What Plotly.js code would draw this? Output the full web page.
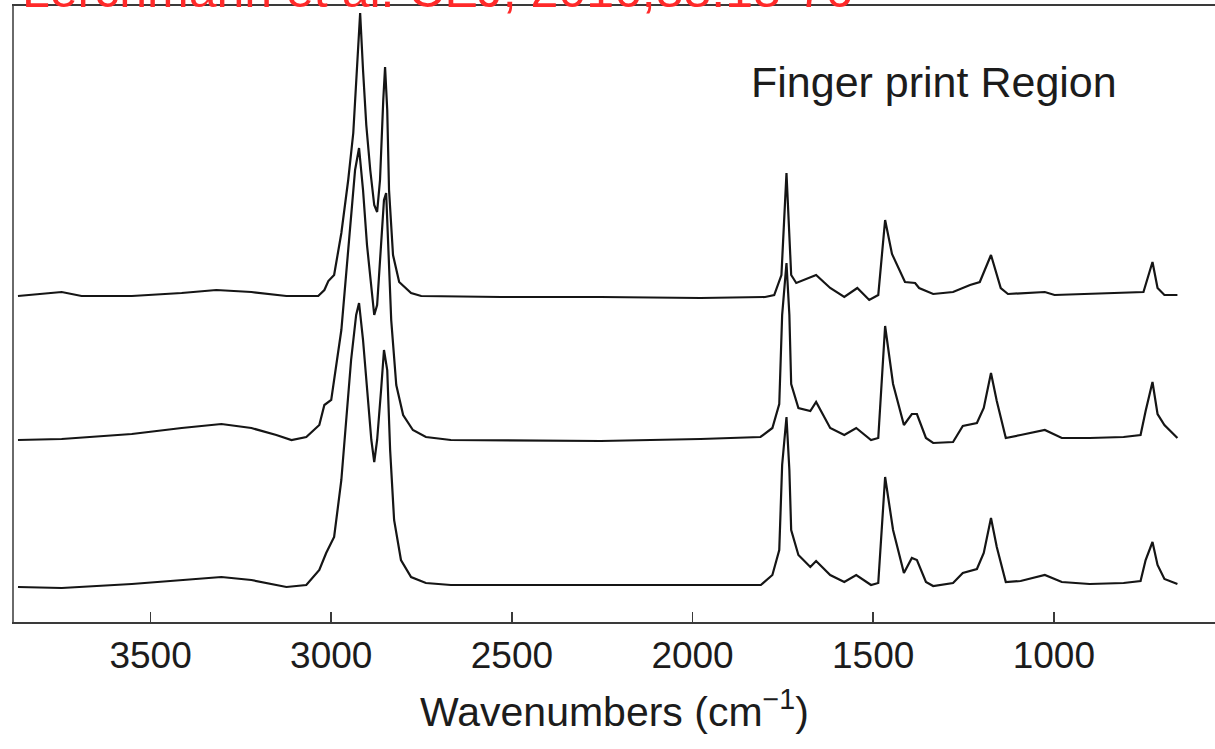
<!DOCTYPE html>
<html>
<head>
<meta charset="utf-8">
<script src="https://cdn.plot.ly/plotly-3.0.1.min.js"></script>
<style>html,body{margin:0;padding:0;background:#fff;overflow:hidden;}</style>
</head>
<body>
<div id="chart" style="width:1215px;height:749px;"></div>
<script>
// Wavenumbers (cm-1) and relative absorbance for each spectrum
const wnTop = [3867,3746,3691,3552,3414,3318,3221,3124,3036,3019,3008,2992,2972,2953,2939,2928,2920,2912,2903,2892,2881,2873,2865,2856,2851,2845,2840,2829,2812,2779,2751,2530,2254,1978,1799,1774,1754,1740,1727,1713,1658,1619,1580,1544,1511,1486,1467,1448,1412,1384,1373,1334,1279,1232,1205,1174,1147,1127,1025,998,807,752,727,713,694,658];
const absTop = [0.01,0.05,0.01,0.01,0.04,0.07,0.05,0.01,0.01,0.07,0.16,0.22,0.64,1.17,1.64,2.30,2.84,2.27,1.72,1.27,0.92,0.85,1.17,1.97,2.30,1.87,1.07,0.42,0.15,0.04,0.01,0.0,0.0,-0.01,0.0,0.02,0.22,1.24,0.22,0.14,0.22,0.09,0.0,0.09,-0.03,0.02,0.77,0.43,0.15,0.14,0.09,0.03,0.05,0.12,0.15,0.42,0.09,0.03,0.05,0.02,0.04,0.05,0.35,0.09,0.02,0.02];

const wnMid = [3867,3746,3552,3414,3304,3221,3152,3110,3069,3033,3019,3000,2972,2958,2945,2934,2923,2912,2901,2889,2881,2873,2862,2854,2848,2843,2834,2820,2801,2774,2738,2669,2254,1978,1812,1779,1760,1752,1740,1732,1727,1707,1674,1658,1619,1580,1547,1506,1486,1467,1445,1415,1393,1379,1354,1334,1279,1252,1213,1194,1174,1158,1133,1092,1025,978,901,807,760,746,727,713,694,658];
const absMid = [0,0.01,0.06,0.12,0.16,0.12,0.05,0,0.03,0.15,0.35,0.40,1.10,1.70,2.25,2.70,2.92,2.50,1.95,1.50,1.25,1.35,1.90,2.40,2.47,2.00,1.20,0.55,0.25,0.10,0.03,0,-0.01,0.01,0.03,0.12,0.36,1.25,1.77,1.25,0.56,0.32,0.29,0.38,0.12,0.05,0.12,0,0.02,1.14,0.56,0.15,0.26,0.26,0.02,-0.03,-0.02,0.14,0.17,0.32,0.67,0.39,0.02,0.05,0.10,0.02,0.02,0.03,0.05,0.29,0.58,0.26,0.15,0.02];

const wnBot = [3867,3746,3552,3414,3304,3221,3124,3069,3033,3014,2992,2972,2958,2945,2931,2923,2912,2901,2889,2881,2873,2862,2854,2845,2837,2826,2807,2779,2738,2669,2254,1978,1811,1779,1760,1752,1740,1732,1727,1707,1674,1658,1619,1580,1547,1506,1486,1467,1445,1415,1393,1379,1354,1334,1279,1252,1213,1194,1174,1158,1133,1092,1025,978,901,807,760,746,727,713,694,658];
const absBot = [-0.02,-0.03,0.01,0.05,0.08,0.05,-0.02,0,0.15,0.32,0.48,1.05,1.65,2.25,2.70,2.82,2.45,1.95,1.45,1.23,1.45,1.95,2.35,2.15,1.35,0.65,0.25,0.08,0.02,0,0,0,0,0.10,0.35,1.20,1.68,1.15,0.55,0.30,0.18,0.24,0.10,0.03,0.10,0,0.02,1.08,0.55,0.12,0.27,0.25,0.03,-0.01,0.02,0.12,0.16,0.32,0.67,0.38,0.03,0.04,0.10,0.03,0.01,0.02,0.04,0.25,0.43,0.20,0.06,0.01];

// vertical stacking offsets of the spectra
const offsets = [2.88, 1.45, 0];
const tickVals = [3500, 3000, 2500, 2000, 1500, 1000];
const tickText = ["3500", "3000", "2500", "2000", "1500", "1000"];

const series = [[wnTop, absTop], [wnMid, absMid], [wnBot, absBot]];
const traces = series.map((s, i) => ({
  x: s[0],
  y: s[1].map(v => v + offsets[i]),
  type: 'scatter',
  mode: 'lines',
  line: {color: '#151515', width: 2.2},
  hoverinfo: 'skip',
  showlegend: false
}));

const font = "'Liberation Sans', Arial, sans-serif";
const layout = {
  width: 1215, height: 749,
  margin: {l: 14, r: 0, t: 6, b: 127},
  paper_bgcolor: '#fff', plot_bgcolor: '#fff',
  showlegend: false,
  xaxis: {
    range: [3878, 554],
    showgrid: false, zeroline: false,
    showline: true, mirror: true, linecolor: '#3a3a3a', linewidth: 2,
    ticks: 'inside', ticklen: 10, tickwidth: 1.5, tickcolor: '#3a3a3a',
    tickmode: 'array', tickvals: tickVals, ticktext: tickText,
    tickfont: {family: font, size: 37, color: '#1c1c1c'},
    title: {text: 'Wavenumbers (cm<sup>\u22121</sup>)', font: {family: font, size: 41, color: '#1c1c1c'}, standoff: 22}
  },
  yaxis: {
    range: [-0.37, 5.79],
    showgrid: false, zeroline: false, showticklabels: false, ticks: '',
    showline: true, linecolor: '#6a6a6a', linewidth: 2
  },
  annotations: [
    {text: 'Finger print Region', xref: 'paper', yref: 'paper', x: 0.766, y: 0.877,
     xanchor: 'center', yanchor: 'middle', showarrow: false,
     font: {family: font, size: 43, color: '#1c1c1c'}},
    {text: 'Lerchmann et al. CEJ, 2016;88:18-76', xref: 'paper', yref: 'paper', x: 0.0, y: 1,
     xanchor: 'left', yanchor: 'bottom', yshift: -14, xshift: 6, showarrow: false,
     font: {family: font, size: 50, color: '#ff2a2a'}}
  ]
};

Plotly.newPlot('chart', traces, layout, {displayModeBar: false, staticPlot: true});
</script>
</body>
</html>
